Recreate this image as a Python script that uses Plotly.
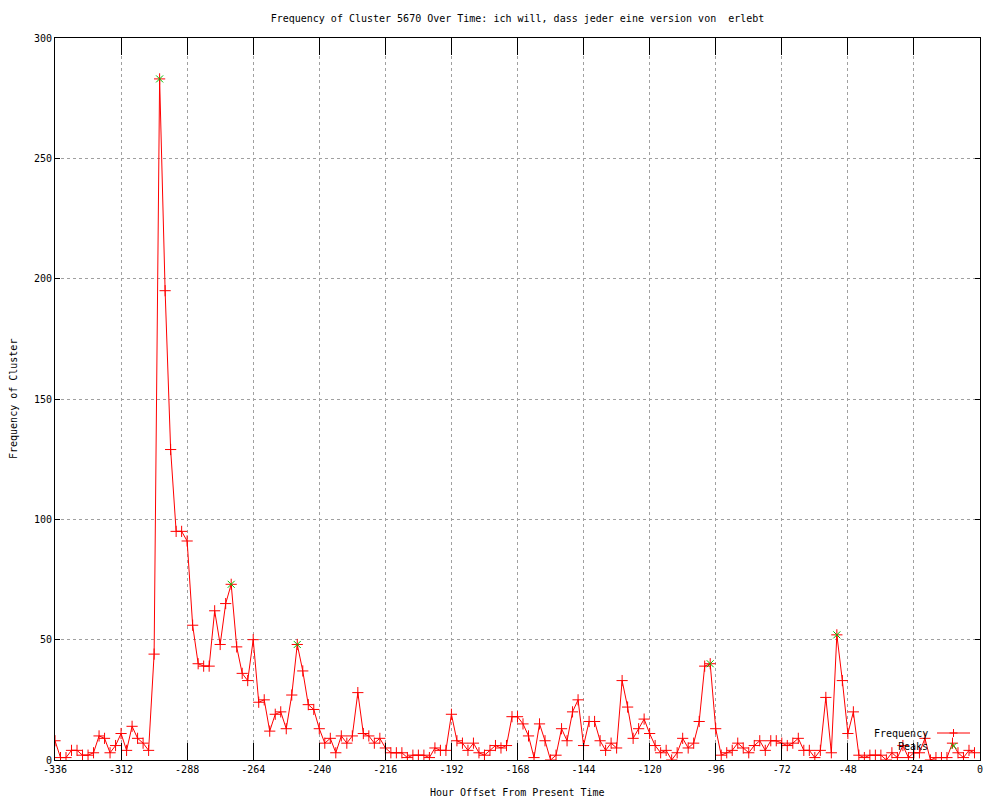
import plotly.graph_objects as go

hours = [-336, -334, -332, -330, -328, -326, -324, -322, -320, -318, -316, -314,
         -312, -310, -308, -306, -304, -302, -300, -298, -296, -294, -292, -290,
         -288, -286, -284, -282, -280, -278, -276, -274, -272, -270, -268, -266,
         -264, -262, -260, -258, -256, -254, -252, -250, -248, -246, -244, -242,
         -240, -238, -236, -234, -232, -230, -228, -226, -224, -222, -220, -218,
         -216, -214, -212, -210, -208, -206, -204, -202, -200, -198, -196, -194,
         -192, -190, -188, -186, -184, -182, -180, -178, -176, -174, -172, -170,
         -168, -166, -164, -162, -160, -158, -156, -154, -152, -150, -148, -146,
         -144, -142, -140, -138, -136, -134, -132, -130, -128, -126, -124, -122,
         -120, -118, -116, -114, -112, -110, -108, -106, -104, -102, -100, -98,
         -96, -94, -92, -90, -88, -86, -84, -82, -80, -78, -76, -74,
         -72, -70, -68, -66, -64, -62, -60, -58, -56, -54, -52, -50,
         -48, -46, -44, -42, -40, -38, -36, -34, -32, -30, -28, -26,
         -24, -22, -20, -18, -16, -14, -12, -10, -8, -6, -4, -2]

frequency = [8, 1, 1, 4, 4, 2, 2, 3, 10, 9, 3, 6,
             11, 4, 14, 9, 7, 4, 44, 283, 195, 129, 95, 95,
             91, 56, 40, 39, 39, 62, 48, 65, 73, 47, 36, 33,
             50, 24, 25, 12, 19, 20, 13, 27, 48, 37, 23, 21,
             13, 7, 9, 3, 10, 7, 10, 28, 11, 10, 7, 9,
             5, 3, 3, 3, 1, 2, 2, 2, 1, 5, 4, 4,
             19, 8, 7, 4, 7, 3, 2, 4, 6, 5, 6, 18,
             18, 15, 10, 1, 15, 8, 0, 2, 13, 8, 20, 25,
             6, 16, 16, 8, 4, 7, 5, 33, 22, 9, 13, 17,
             11, 6, 3, 4, 0, 3, 9, 5, 7, 16, 39, 40,
             13, 2, 3, 4, 7, 5, 3, 6, 8, 4, 8, 8,
             7, 6, 7, 9, 4, 4, 1, 4, 26, 3, 52, 33,
             11, 20, 2, 1, 2, 2, 2, 0, 3, 1, 6, 1,
             3, 3, 9, 0, 1, 1, 1, 7, 3, 1, 4, 3]

peak_hours = [-298, -272, -248, -98, -52]
peak_values = [283, 73, 48, 40, 52]

x_ticks = [-336, -312, -288, -264, -240, -216, -192, -168, -144, -120, -96, -72, -48, -24, 0]
y_ticks = [0, 50, 100, 150, 200, 250, 300]

title_text = "Frequency of Cluster 5670 Over Time: ich will, dass jeder eine version von  erlebt"
x_title = "Hour Offset From Present Time"
y_title = "Frequency of Cluster"

FONT = "DejaVu Sans Mono"
RED = "#ff0000"
GREEN = "#00c000"

fig = go.Figure()
fig.add_trace(go.Scatter(
    x=hours, y=frequency, mode="lines+markers", name="Frequency",
    line=dict(color=RED, width=1),
    marker=dict(symbol="cross-thin-open", size=8, line=dict(color=RED, width=1), color=RED),
    showlegend=False))
fig.add_trace(go.Scatter(
    x=peak_hours, y=peak_values, mode="markers", name="Peaks",
    marker=dict(symbol="x-thin-open", size=7, line=dict(color=GREEN, width=1), color=GREEN),
    showlegend=False))

# page body has an 8px default margin; target screen positions are offset by it
OFF = 8
W, H = 1000 - OFF, 800 - OFF
L, T = 55 - OFF, 38 - OFF
pw, ph = 925, 722
R, B = W - L - pw, H - T - ph

fig.update_layout(
    width=W, height=H,
    margin=dict(l=L, r=R, t=T, b=B, autoexpand=False),
    paper_bgcolor="white", plot_bgcolor="white",
    font=dict(family=FONT, size=10, color="black"),
    title=dict(text=title_text, x=0.5, xref="paper", xanchor="center",
               y=1 - (18 - OFF) / H, yref="container", yanchor="middle",
               font=dict(family=FONT, size=10, color="black")),
)
fig.update_xaxes(range=[-336, 0], tickvals=x_ticks, ticktext=[str(v) for v in x_ticks],
                 ticks="inside", ticklen=17, tickcolor="black", tickwidth=1,
                 showline=True, linecolor="black", linewidth=1, mirror="ticks",
                 showgrid=True, gridcolor="#a0a0a0", griddash="dot", gridwidth=1,
                 zeroline=False, tickfont=dict(family=FONT, size=10, color="black"))
fig.update_yaxes(range=[0, 300], tickvals=y_ticks, ticktext=[str(v) for v in y_ticks],
                 ticks="inside", ticklen=5, tickcolor="black", tickwidth=1,
                 showline=True, linecolor="black", linewidth=1, mirror="ticks",
                 showgrid=True, gridcolor="#a0a0a0", griddash="dot", gridwidth=1,
                 zeroline=False, tickfont=dict(family=FONT, size=10, color="black"))

# screen-pixel helpers (reference coordinates) -> paper coords
def px(xs):
    return (xs - 55) / pw

def py(ys):
    return (760 - ys) / ph

# axis titles
fig.add_annotation(text=x_title, xref="paper", yref="paper", x=0.5, y=py(793),
                   xanchor="center", yanchor="middle", showarrow=False,
                   font=dict(family=FONT, size=10, color="black"))
fig.add_annotation(text=y_title, xref="paper", yref="paper", x=px(13), y=0.5,
                   xanchor="center", yanchor="middle", textangle=-90, showarrow=False,
                   font=dict(family=FONT, size=10, color="black"))

# gnuplot-style key (text on left, sample on right), bottom right inside plot
key_text_right = 930
sample_x0, sample_x1 = 937, 970
sample_c = (sample_x0 + sample_x1) / 2
row1, row2 = 733, 746
fig.add_annotation(text="Frequency", xref="paper", yref="paper", x=px(key_text_right), y=py(row1),
                   xanchor="right", yanchor="middle", showarrow=False,
                   font=dict(family=FONT, size=10, color="black"))
fig.add_annotation(text="Peaks", xref="paper", yref="paper", x=px(key_text_right), y=py(row2),
                   xanchor="right", yanchor="middle", showarrow=False,
                   font=dict(family=FONT, size=10, color="black"))
fig.add_shape(type="line", xref="paper", yref="paper", x0=px(sample_x0), x1=px(sample_x1),
              y0=py(row1), y1=py(row1), line=dict(color=RED, width=1))
fig.add_shape(type="line", xref="paper", yref="paper", xsizemode="pixel", ysizemode="pixel",
              xanchor=px(sample_c), yanchor=py(row1), x0=0, x1=0, y0=-4, y1=4,
              line=dict(color=RED, width=1))
fig.add_shape(type="line", xref="paper", yref="paper", xsizemode="pixel", ysizemode="pixel",
              xanchor=px(sample_c), yanchor=py(row1), x0=-4, x1=4, y0=0, y1=0,
              line=dict(color=RED, width=1))
fig.add_shape(type="line", xref="paper", yref="paper", xsizemode="pixel", ysizemode="pixel",
              xanchor=px(sample_c), yanchor=py(row2), x0=-3, x1=3, y0=-3, y1=3,
              line=dict(color=GREEN, width=1))
fig.add_shape(type="line", xref="paper", yref="paper", xsizemode="pixel", ysizemode="pixel",
              xanchor=px(sample_c), yanchor=py(row2), x0=-3, x1=3, y0=3, y1=-3,
              line=dict(color=GREEN, width=1))

fig.write_html("out.html")
